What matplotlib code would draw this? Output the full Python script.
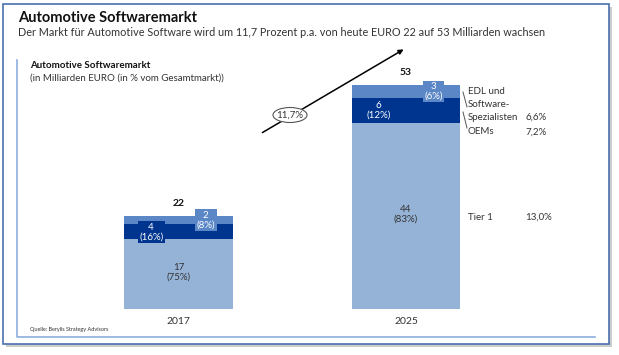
import matplotlib.pyplot as plt
from matplotlib.patches import Rectangle, Ellipse
import numpy as np

plt.rcParams['font.family'] = ['Lato', 'DejaVu Sans']

years = ['2017', '2025']
totals = [22, 53]
tier1 = [16.5, 44]
oems = [3.5, 6]
edl = [2.0, 3]
tier1_lbl = ['17\n(75%)', '44\n(83%)']
oems_lbl = ['4\n(16%)', '6\n(12%)']
edl_lbl = ['2\n(8%)', '3\n(6%)']
growth = ['6,6%', '7,2%', '13,0%']

c_tier1 = '#95b3d7'
c_oem = '#00358f'
c_edl = '#5b87c6'
txt = '#333333'

W, H = 619, 355
fig = plt.figure(figsize=(W / 100, H / 100), dpi=100)

# overlay in pixel coordinates for frame and text
deco = fig.add_axes([0, 0, 1, 1])
deco.set_xlim(0, W)
deco.set_ylim(H, 0)
deco.axis('off')

# frame with shadow
deco.add_patch(Rectangle((6, 7), 606, 340, facecolor='#cccccc', edgecolor='none', zorder=0))
deco.add_patch(Rectangle((3, 4), 606, 340, facecolor='white', edgecolor='#4a70ad', lw=1.2, zorder=1))
deco.plot([17, 17, 595], [60, 337, 337], color='#8eaedb', lw=1.2, zorder=2)

deco.text(18, 18, 'Automotive Softwaremarkt', fontsize=10.5, fontweight='bold', color='#111111', va='center')
deco.text(18, 33, 'Der Markt für Automotive Software wird um 11,7 Prozent p.a. von heute EURO 22 auf 53 Milliarden wachsen',
          fontsize=7.85, color=txt, va='center')
deco.text(30, 66, 'Automotive Softwaremarkt', fontsize=7, fontweight='bold', color='#111111', va='center')
deco.text(30, 78, '(in Milliarden EURO (in % vom Gesamtmarkt))', fontsize=7, color=txt, va='center')
deco.text(30, 330, 'Quelle: Berylis Strategy Advisors', fontsize=4, color=txt, va='center')

# growth arrow
deco.annotate('', xy=(406, 48), xytext=(260, 134),
              arrowprops=dict(arrowstyle='-|>', color='black', lw=1.1, mutation_scale=7), zorder=3)
deco.add_patch(Ellipse((290, 115), 34, 15, facecolor='white', edgecolor='#555555', lw=0.8, zorder=4))
deco.text(290, 115, '11,7%', fontsize=7, color=txt, ha='center', va='center', zorder=5)

# right-side labels
deco.text(468, 92, 'EDL und', fontsize=7, color=txt, va='center')
deco.text(468, 104.5, 'Software-', fontsize=7, color=txt, va='center')
deco.text(468, 117, 'Spezialisten', fontsize=7, color=txt, va='center')
deco.text(468, 132, 'OEMs', fontsize=7, color=txt, va='center')
deco.text(468, 217, 'Tier 1', fontsize=7, color=txt, va='center')
for g, y in zip(growth, [117, 132, 217]):
    deco.text(525, y, g, fontsize=7, color=txt, va='center')
deco.plot([463, 467], [92, 107], color='#555555', lw=0.7)
deco.plot([463, 467], [112, 128], color='#555555', lw=0.7)

# bar chart
ax = fig.add_axes([64.75 / W, 46 / H, 455 / W, 253.6 / H])
ax.patch.set_alpha(0)
x = np.arange(len(years))
w = 0.475
b1 = np.array(tier1)
b2 = b1 + np.array(oems)
ax.bar(x, tier1, w, color=c_tier1, zorder=2)
ax.bar(x, oems, w, bottom=b1, color=c_oem, zorder=2)
ax.bar(x, edl, w, bottom=b2, color=c_edl, zorder=2)
ax.set_xlim(-0.5, 1.5)
ax.set_ylim(0, 60)
ax.axis('off')

for i in range(len(years)):
    ax.text(x[i], tier1[i] / 2 + 0.5, tier1_lbl[i], ha='center', va='center', fontsize=7,
            color=txt, linespacing=1.1, zorder=3)
    oem_box = dict(boxstyle='square,pad=0.15', facecolor=c_oem, edgecolor='none') if i == 0 else None
    ax.text(x[i] - 0.12, b1[i] + oems[i] / 2, oems_lbl[i], ha='center', va='center', fontsize=7,
            color='white', linespacing=1.1, bbox=oem_box, zorder=3)
    ax.text(x[i] + 0.12, b2[i] + edl[i] / 2, edl_lbl[i], ha='center', va='center', fontsize=7,
            color='white', linespacing=1.1,
            bbox=dict(boxstyle='square,pad=0.15', facecolor=c_edl, edgecolor='none'), zorder=3)
    ax.annotate(str(totals[i]), (x[i], b2[i] + edl[i]), xytext=(0, 6), textcoords='offset points',
                ha='center', va='bottom', fontsize=7.5, fontweight='bold', color='#111111')
    ax.annotate(years[i], (x[i], 0), xytext=(0, -6), textcoords='offset points',
                ha='center', va='top', fontsize=7.5, color=txt)

fig.savefig('out.png', dpi=100)
